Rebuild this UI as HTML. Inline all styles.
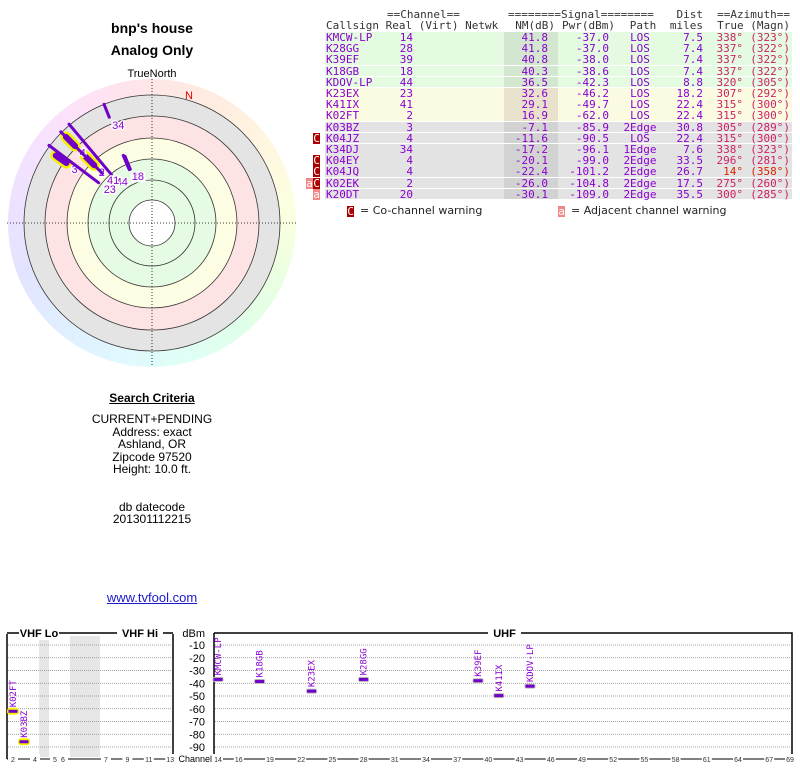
<!DOCTYPE html>
<html><head><meta charset="utf-8">
<style>
body{margin:0;width:800px;height:768px;background:#fff;position:relative;overflow:hidden;font-family:"Liberation Sans",sans-serif}
.abs{position:absolute}
.c{position:absolute;text-align:center;width:300px;left:2px}
.cell{position:absolute;font-family:"DejaVu Sans Mono","Liberation Mono",monospace;font-size:11px;white-space:pre;line-height:11px}
</style></head><body>
<div class="c" style="top:20px;font-weight:bold;font-size:14px">bnp's house</div>
<div class="c" style="top:42px;font-weight:bold;font-size:14px">Analog Only</div>
<div class="c" style="top:68px;font-size:11px">TrueNorth</div>

<div class="abs" style="left:8px;top:79px;width:288px;height:288px;border-radius:50%;background:conic-gradient(#ffe6e6,#ffece0,#fff6e0,#fcffe0,#ecffe0,#e0ffe8,#e0fff6,#e0f8ff,#e0eeff,#e2e4ff,#ece2ff,#f6e2ff,#ffe2f6,#ffe6e6)"></div>
<svg class="abs" style="left:0;top:0" width="310" height="380" id="polar"></svg>

<div class="c" style="top:391px;font-weight:bold;font-size:12px;text-decoration:underline">Search Criteria</div>
<div class="c" style="top:413px;font-size:12px;line-height:12.5px">CURRENT+PENDING<br>Address: exact<br>Ashland, OR<br>Zipcode 97520<br>Height: 10.0 ft.<br><br><br>db datecode<br>201301112215</div>
<div class="c" style="top:590px;font-size:13px;color:#1a1acc;text-decoration:underline">www.tvfool.com</div>

<div id="table"></div>
<svg class="abs" style="left:0;top:620px" width="800" height="148" id="spec"></svg>

<script>
// ---- data ----
const calls=["KMCW-LP","K28GG","K39EF","K18GB","KDOV-LP","K23EX","K41IX","K02FT","K03BZ","K04JZ","K34DJ","K04EY","K04JQ","K02EK","K20DT"];
const channels=[14,28,39,18,44,23,41,2,3,4,34,4,4,2,20];
const nmVals=[41.8,41.8,40.8,40.3,36.5,32.6,29.1,16.9,-7.1,-11.6,-17.2,-20.1,-22.4,-26.0,-30.1];
const pwrVals=[-37.0,-37.0,-38.0,-38.6,-42.3,-46.2,-49.7,-62.0,-85.9,-90.5,-96.1,-99.0,-101.2,-104.8,-109.0];
const paths=["LOS","LOS","LOS","LOS","LOS","LOS","LOS","LOS","2Edge","LOS","1Edge","2Edge","2Edge","2Edge","2Edge"];
const dists=[7.5,7.4,7.4,7.4,8.8,18.2,22.4,22.4,30.8,22.4,7.6,33.5,26.7,17.5,35.5];
const azTrue=[338,337,337,337,320,307,315,315,305,315,338,296,14,275,300];
const azMagn=[323,322,322,322,305,292,300,300,289,300,323,281,358,260,285];
const warnings=["","","","","","","","","","C","","C","C","aC","a"];
const analogChannels=[2,3,4];
const dbmTicks=[-10,-20,-30,-40,-50,-60,-70,-80,-90];
const uhfTicks=[14,16,19,22,25,28,31,34,37,40,43,46,49,52,55,58,61,64,67,69];
const vhfTicks=[2,4,5,6,7,9,11,13];

const NS="http://www.w3.org/2000/svg";
function mk(parent,tag,attrs){const e=document.createElementNS(NS,tag);for(const k in attrs)e.setAttribute(k,attrs[k]);parent.appendChild(e);return e;}

// ---- table ----
const T=document.getElementById('table');
function cell(txt,x,y,color,align,name){
  const d=document.createElement('div');d.className='cell';
  
  
  d.textContent=txt;d.style.top=y+'px';d.style.color=color;
  if(align==='r'){d.style.right=(800-x)+'px';}else if(align==='c'){d.style.left=(x-40)+'px';d.style.width='80px';d.style.textAlign='center';}else d.style.left=x+'px';
  T.appendChild(d);return d;
}
cell("==Channel==",387,9,"#333","l","channel-header");
cell("========Signal========",508,9,"#333","l","signal-header");
cell("Dist",703,9,"#333","r","dist-header");
cell("==Azimuth==",790,9,"#333","r","azimuth-header");
cell("Callsign Real (Virt) Netwk",326,20,"#333","l","column-headers");
cell("NM(dB)",555,20,"#333","r","nm-header");
cell("Pwr(dBm)",615,20,"#333","r","pwr-header");
cell("Path",643,20,"#333","c","path-header");
cell("miles",703,20,"#333","r","miles-header");
cell("True (Magn)",790,20,"#333","r","true-magn-header");
const rowH=11.2, row0=32;
calls.forEach((cs,i)=>{
  const y=row0+i*rowH;
  const bg=nmVals[i]>=35?"#e4fbe2":nmVals[i]>=15?"#fbfbe2":"#e3e3e3";
  const nbg=nmVals[i]>=35?"#d2e6d0":nmVals[i]>=15?"#e8e2cc":"#d2d2d2";
  const r=document.createElement('div');r.className='abs';
  
  
  r.style.cssText=`left:325px;top:${y}px;width:467px;height:${rowH-0.5}px;background:${bg}`;
  T.appendChild(r);
  const n=document.createElement('div');n.className='abs';
  
  
  n.style.cssText=`left:504px;top:${y}px;width:54px;height:${rowH-0.5}px;background:${nbg}`;
  T.appendChild(n);
  const ty=y;
  cell(cs,326,ty,"#8a00d0","l","callsign");
  cell(String(channels[i]),413,ty,"#8a00d0","r","real-channel");
  cell(nmVals[i].toFixed(1),548,ty,"#8a00d0","r","nm-value");
  cell(pwrVals[i].toFixed(1),609,ty,"#8a00d0","r","power-value");
  cell(paths[i],640,ty,"#8a00d0","c","path");
  cell(dists[i].toFixed(1),703,ty,"#8a00d0","r","distance");
  const azc=azTrue[i]<20?"#dd2200":"#cc2266";
  cell(azTrue[i]+"°",743,ty,azc,"r","azimuth-true");
  cell("("+azMagn[i]+"°)",790,ty,azc,"r","azimuth-magn");
  const w=warnings[i];
  for(let k=0;k<w.length;k++){
    const ch=w[w.length-1-k];
    const b=document.createElement('div');b.className='cell';
    
    
    b.textContent=ch==='C'?'C':'a';
    b.style.cssText=`left:${313-k*7}px;top:${ty}px;width:7px;height:11px;text-align:center;color:#fff;background:${ch==='C'?'#aa0000':'#f08888'}`;
    T.appendChild(b);
  }
});
function legendBox(x,ch,bg,txt,name){
  const b=document.createElement('div');b.className='cell';
  
  
  b.textContent=ch;b.style.cssText=`left:${x}px;top:206px;width:7px;height:11px;text-align:center;color:#fff;background:${bg}`;T.appendChild(b);
  const t=document.createElement('div');t.className='abs';
  
  
  t.textContent=txt;t.style.cssText=`left:${x+13}px;top:204px;font-family:"DejaVu Sans",sans-serif;font-size:11px;color:#222`;T.appendChild(t);
}
legendBox(347,'C','#aa0000','= Co-channel warning','co-channel-legend');
legendBox(558,'a','#f08888','= Adjacent channel warning','adjacent-legend');

// ---- polar ----
const P=document.getElementById('polar');
const cx=152,cy=223;
const zones=[[128,"#e4e4e4"],[107,"#fde3e3"],[85,"#fdfde3"],[64,"#e5fbe3"],[23,"#ffffff"]];
zones.forEach(z=>{const e=mk(P,'circle',{cx,cy,r:z[0],fill:z[1]});});
[128,107,85,64,43,23].forEach(r=>{const e=mk(P,'circle',{cx,cy,r,fill:'none',stroke:'#333','stroke-width':0.8});});
let e1=mk(P,'line',{x1:7,y1:cy,x2:297,y2:cy,stroke:'#000','stroke-dasharray':'1,2','stroke-width':0.8});
let e2=mk(P,'line',{x1:cx,y1:79,x2:cx,y2:367,stroke:'#000','stroke-dasharray':'1,2','stroke-width':0.8});
let nl=mk(P,'text',{x:185,y:99,'font-size':11,fill:'#dd0000','font-family':'Liberation Sans'});nl.textContent='N';
function rOf(nm){return Math.min(125,58+(41.8-nm)*0.95);}
function pt(az,r){const a=az*Math.PI/180;return [cx+r*Math.sin(a),cy-r*Math.cos(a)];}
function drawStation(i){
  const cs=calls[i];
  const analog=analogChannels.includes(channels[i]);
  const r=rOf(nmVals[i]);
  const rOut=analog?Math.min(128,r+13):((nmVals[i]>25&&nmVals[i]<37)?129:Math.min(128,r+14));
  const [x1,y1]=pt(azTrue[i],r);const [x2,y2]=pt(azTrue[i],rOut);
  if(analog){const h=mk(P,'line',{x1,y1,x2,y2,stroke:'#f5f000','stroke-width':11,'stroke-linecap':'round'});}
  const l=mk(P,'line',{x1,y1,x2,y2,stroke:'#7000c8','stroke-width':analog?6:3,'stroke-linecap':'round'});
  
  
  const [tx,ty]=pt(azTrue[i],r-5);
  const t=mk(P,'text',{x:tx+1,y:ty+7,'font-size':11,fill:'#8a00d0','font-family':'Liberation Sans',stroke:'#fff','stroke-width':2.5,'paint-order':'stroke'});
  t.textContent=channels[i];
  
  
}
calls.forEach((cs,i)=>{ if(nmVals[i]>-20&&analogChannels.includes(channels[i])) drawStation(i); });
calls.forEach((cs,i)=>{ if(nmVals[i]>-20&&!analogChannels.includes(channels[i])) drawStation(i); });

// ---- spectrum ----
const S=document.getElementById('spec');
function yDbm(d){return 25+(-10-d)/10*12.75;}
function uX(ch){return 218+(ch-14)*10.4;}
function vX(ch){return ch<=4?13+(ch-2)*11:ch===5?55:ch===6?63:106+(ch-7)*10.7;}
[[39,10],[70,30]].forEach(b=>{const r=mk(S,'rect',{x:b[0],y:16,width:b[1],height:121,fill:'#e6e6e6'});});
dbmTicks.forEach(d=>{
  [[8,172],[215,791]].forEach(s=>{const g=mk(S,'line',{x1:s[0],x2:s[1],y1:yDbm(d),y2:yDbm(d),stroke:'#888','stroke-dasharray':'1,1','stroke-width':0.8});});
  const t=mk(S,'text',{x:205,y:yDbm(d)+4,'font-size':11,'text-anchor':'end','font-family':'Liberation Sans'});t.textContent=d;
  
});
let dt=mk(S,'text',{x:205,y:17,'font-size':11,'text-anchor':'end','font-family':'Liberation Sans'});dt.textContent='dBm';
let f1=mk(S,'path',{d:'M7,14 V139 M173,14 V139 M7,13 H173 M214,13 H792 V139 M214,13 V139',stroke:'#000','stroke-width':1.5,fill:'none'});
let f2=mk(S,'path',{d:'M7,139 H173 M214,139 H792',stroke:'#000','stroke-width':1,fill:'none'});
[["VHF Lo",19,59,'vhf-lo-title'],["VHF Hi",117,163,'vhf-hi-title'],["UHF",488,521,'uhf-title']].forEach(b=>{
  const r=mk(S,'rect',{x:b[1],y:6,width:b[2]-b[1],height:14,fill:'#fff'});
  const t=mk(S,'text',{x:(b[1]+b[2])/2,y:17,'font-size':11,'font-weight':'bold','text-anchor':'middle','font-family':'Liberation Sans'});t.textContent=b[0];
  
});
let ct=mk(S,'text',{x:212,y:142,'font-size':9,'text-anchor':'end','font-family':'Liberation Sans'});ct.textContent='Channel';
function tick(x,lab){const r=mk(S,'rect',{x:x-5,y:134,width:10,height:9,fill:'#fff'});
  const t=mk(S,'text',{x,y:142,'font-size':7,'text-anchor':'middle','font-family':'Liberation Sans',fill:'#333'});t.textContent=lab;}
uhfTicks.forEach(c=>tick(uX(c),c));
vhfTicks.forEach(c=>tick(vX(c),c));
calls.forEach((cs,i)=>{
  if(pwrVals[i]<-95)return;
  const ch=channels[i];
  if(ch>=5&&ch<14)return;
  if(ch<5&&pwrVals[i]<-88)return;
  const x=ch>=14?uX(ch):vX(ch);const y=yDbm(pwrVals[i]);
  const analog=analogChannels.includes(ch);
  if(analog){const h=mk(S,'rect',{x:x-6,y:y-3.5,width:12,height:7,rx:3,fill:'#f5f000'});}
  else{const s=mk(S,'rect',{x:x-5.5,y:y-2.5,width:11,height:5,rx:2,fill:'#bbb'});}
  const b=mk(S,'rect',{x:x-4.5,y:y-1.5,width:9,height:3,fill:'#7000c8'});
  
  
  const t=mk(S,'text',{x:0,y:0,'font-size':9,fill:'#8a00d0','font-family':'DejaVu Sans Mono',transform:`translate(${x+3},${y-4}) rotate(-90)`});
  t.textContent=cs;
  
  
});
</script>
</body></html>
